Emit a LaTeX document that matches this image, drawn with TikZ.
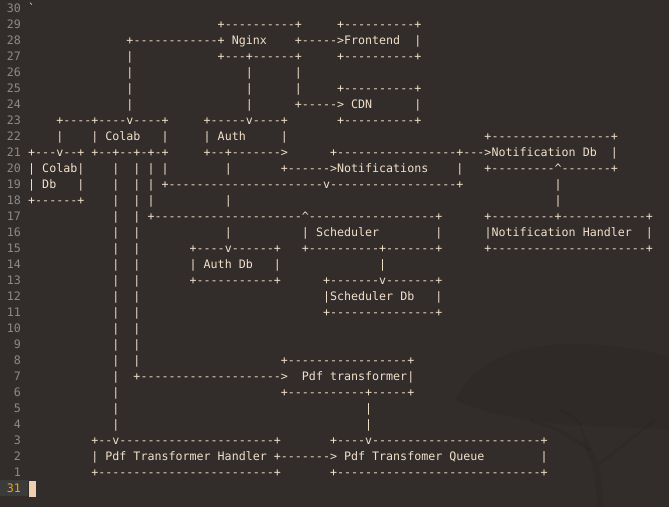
\documentclass[tikz,border=0pt]{standalone}
\usepackage{fontspec}
\setmonofont{DejaVu Sans Mono}
\usepackage{tikz}

\definecolor{termbg}{HTML}{322D2B}
\definecolor{termfg}{HTML}{F2E0C8}
\definecolor{gutterfg}{HTML}{8A8A8A}
\definecolor{curline}{HTML}{3B3B3B}
\definecolor{curnum}{HTML}{F2A600}
\definecolor{cursorc}{HTML}{F0CFB0}

\newlength{\cw}
\setlength{\cw}{7.02pt}
\newcommand{\sk}[1]{\hspace*{#1\cw}}
\newcommand{\rowtxt}[3]{\node[term] (r#1) at ({28pt+#2*\cw},{-12.7pt-(30-#1)*16pt}) {#3};}

\begin{document}
\begin{tikzpicture}[x=1pt,y=1pt,
  term/.style={anchor=base west, inner sep=0pt, text=termfg,
    font=\ttfamily\fontsize{11.66pt}{16pt}\selectfont},
  lnum/.style={term, anchor=base east, text=gutterfg},
  tree/.style={black, opacity=0.05}]
        \useasboundingbox (0,0) rectangle (669,-507);
        \fill[termbg] (0,0) rectangle (669,-507);
        \fill[tree] (455,-400) .. controls (480,-350) and (540,-340) .. (600,-345) .. controls (640,-348) and (669,-355) .. (669,-360) -- (669,-430) .. controls (620,-425) and (520,-430) .. (455,-400) -- cycle;
        \draw[tree, line width=6] (600,-507) .. controls (598,-470) .. (585,-440);
        \draw[tree, line width=3] (590,-450) .. controls (560,-430) .. (530,-420);
        \draw[tree, line width=3] (598,-465) .. controls (630,-440) .. (655,-420);
        \draw[tree, line width=2] (585,-440) .. controls (580,-420) .. (560,-410);
        \foreach \k in {1,...,30}
            \node[lnum] (n\k) at (21,{-12.7-(30-\k)*16}) {\k};
        \fill[curline] (0,-480) rectangle (28,-496);
        \node[lnum, text=curnum] (n31) at (21,-492.7) {31};
        \fill[cursorc] (28.5,-480.5) rectangle (35.5,-496.5);
        \rowtxt{30}{0}{`}
        \rowtxt{29}{27}{+----------+\sk{5}+----------+}
        \rowtxt{28}{14}{+------------+ Nginx\sk{4}+----->Frontend\sk{2}|}
        \rowtxt{27}{14}{|\sk{12}+---+------+\sk{5}+----------+}
        \rowtxt{26}{14}{|\sk{16}|\sk{6}|}
        \rowtxt{25}{14}{|\sk{16}|\sk{6}|\sk{5}+----------+}
        \rowtxt{24}{14}{|\sk{16}|\sk{6}+-----> CDN\sk{6}|}
        \rowtxt{23}{4}{+----+----v----+\sk{5}+-----v----+\sk{7}+----------+}
        \rowtxt{22}{4}{|\sk{4}| Colab\sk{3}|\sk{5}| Auth\sk{5}|\sk{28}+-----------------+}
        \rowtxt{21}{0}{+---v--+ +--+--+-+-+\sk{5}+--+------->\sk{6}+-----------------+--->Notification Db\sk{2}|}
        \rowtxt{20}{0}{| Colab|\sk{4}|\sk{2}| | |\sk{8}|\sk{7}+------>Notifications\sk{4}|\sk{3}+---------\textasciicircum-------+}
        \rowtxt{19}{0}{| Db\sk{3}|\sk{4}|\sk{2}| | +----------------------v------------------+\sk{13}|}
        \rowtxt{18}{0}{+------+\sk{4}|\sk{2}| |\sk{10}|\sk{46}|}
        \rowtxt{17}{12}{|\sk{2}| +---------------------\textasciicircum------------------+\sk{6}+---------+------------+}
        \rowtxt{16}{12}{|\sk{2}|\sk{12}|\sk{10}| Scheduler\sk{8}|\sk{6}|Notification Handler\sk{2}|}
        \rowtxt{15}{12}{|\sk{2}|\sk{7}+----v------+\sk{3}+----------+-------+\sk{6}+----------------------+}
        \rowtxt{14}{12}{|\sk{2}|\sk{7}| Auth Db\sk{3}|\sk{14}|}
        \rowtxt{13}{12}{|\sk{2}|\sk{7}+-----------+\sk{6}+-------v-------+}
        \rowtxt{12}{12}{|\sk{2}|\sk{26}|Scheduler Db\sk{3}|}
        \rowtxt{11}{12}{|\sk{2}|\sk{26}+---------------+}
        \rowtxt{10}{12}{|\sk{2}|}
        \rowtxt{9}{12}{|\sk{2}|}
        \rowtxt{8}{12}{|\sk{2}|\sk{20}+-----------------+}
        \rowtxt{7}{12}{|\sk{2}+-------------------->\sk{2}Pdf transformer|}
        \rowtxt{6}{12}{|\sk{23}+-----------+-----+}
        \rowtxt{5}{12}{|\sk{35}|}
        \rowtxt{4}{12}{|\sk{35}|}
        \rowtxt{3}{9}{+--v----------------------+\sk{7}+----v------------------------+}
        \rowtxt{2}{9}{| Pdf Transformer Handler +-------> Pdf Transfomer Queue\sk{8}|}
        \rowtxt{1}{9}{+-------------------------+\sk{7}+-----------------------------+}
\end{tikzpicture}
\end{document}
